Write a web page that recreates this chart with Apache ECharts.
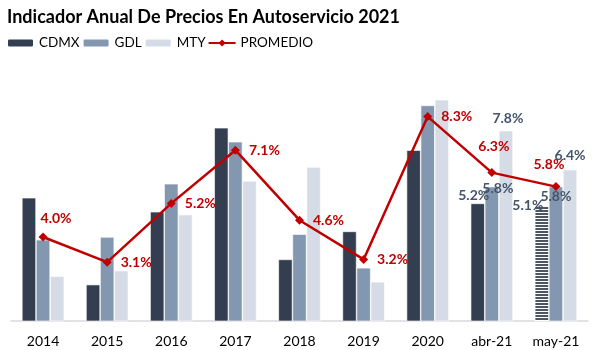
<!DOCTYPE html>
<html>
<head>
<meta charset="utf-8">
<script src="https://cdn.jsdelivr.net/npm/echarts@6/dist/echarts.min.js"></script>
<style>
  html, body { margin: 0; padding: 0; background: #fff; }
  #chart { width: 600px; height: 350px; }
</style>
</head>
<body>
<div id="chart"></div>
<script>
const years = ['2014', '2015', '2016', '2017', '2018', '2019', '2020', 'abr-21', 'may-21']
const cdmx = [5.4, 2.3, 4.9, 7.9, 3.2, 4.2, 7.1, 5.2, 5.1]
const gdl = [3.9, 4.0, 5.9, 7.4, 4.1, 2.9, 8.7, 5.8, 5.8]
const mty = [2.6, 2.8, 4.8, 6.0, 6.5, 2.4, 8.9, 7.8, 6.4]
const promedio = [4.0, 3.1, 5.2, 7.1, 4.6, 3.2, 8.3, 6.3, 5.8]

// only the last two months carry bar labels
const labelled = ['abr-21', 'may-21']

const FONT = 'Lato'

const chart = echarts.init(document.getElementById('chart'))

// striped fill for the may-21 CDMX bar
const stripe = document.createElement('canvas')
stripe.width = 4
stripe.height = 3
const sctx = stripe.getContext('2d')
sctx.fillStyle = '#fff'
sctx.fillRect(0, 0, 4, 3)
sctx.fillStyle = '#4a5566'
sctx.fillRect(0, 0, 4, 2)

const pct = (p) => p.value.toFixed(1) + '%'

const barLabel = {
  color: '#44546A',
  fontWeight: 'bold',
  fontSize: 14,
  fontFamily: FONT,
  formatter: pct
}

const barOffsets = {
  CDMX: { 'abr-21': [-4, 4], 'may-21': [-14, 11] },
  GDL: { 'abr-21': [6, 14], 'may-21': [0, 22] },
  MTY: { 'abr-21': [2, 0], 'may-21': [0, -2] }
}

function barData(name, values) {
  return values.map((v, i) => {
    const cat = years[i]
    const item = { value: v }
    if (labelled.includes(cat)) {
      item.label = { show: true, position: 'top', offset: barOffsets[name][cat], ...barLabel }
    }
    if (name === 'CDMX' && cat === 'may-21') {
      item.itemStyle = { color: { image: stripe, repeat: 'repeat' } }
    }
    return item
  })
}

const lineLabelPos = {
  '2014': { position: 'top', offset: [13, 2] },
  'abr-21': { position: 'top', offset: [2, -6] },
  'may-21': { position: 'top', offset: [-7, -2] }
}

const lineData = promedio.map((v, i) => {
  const item = { value: v }
  const p = lineLabelPos[years[i]]
  if (p) item.label = p
  return item
})

const option = {
  backgroundColor: '#fff',
  animation: false,
  title: {
    text: 'Indicador Anual De Precios En Autoservicio 2021',
    left: 2,
    top: 3,
    textStyle: {
      fontFamily: FONT,
      fontSize: 18,
      fontWeight: 'bold',
      color: '#000'
    }
  },
  legend: {
    left: 6,
    top: 36,
    padding: 0,
    itemWidth: 27,
    itemHeight: 9,
    itemGap: 2,
    textStyle: {
      fontFamily: FONT,
      fontSize: 13.5,
      color: '#000'
    },
    data: ['CDMX', 'GDL', 'MTY', 'PROMEDIO']
  },
  grid: {
    left: 11,
    right: 12,
    top: 97,
    bottom: 29
  },
  xAxis: {
    type: 'category',
    data: years,
    axisLine: {
      lineStyle: { color: '#D9D9D9', width: 1.5 }
    },
    axisTick: { show: false },
    axisLabel: {
      color: '#000',
      fontFamily: FONT,
      fontSize: 14,
      margin: 13
    }
  },
  yAxis: {
    type: 'value',
    min: 1,
    max: 9,
    show: false,
    splitLine: { show: false }
  },
  series: [
    {
      name: 'CDMX',
      type: 'bar',
      data: barData('CDMX', cdmx),
      barGap: '0%',
      barCategoryGap: '34%',
      itemStyle: { color: '#333F50', borderColor: '#fff', borderWidth: 0.6 }
    },
    {
      name: 'GDL',
      type: 'bar',
      data: barData('GDL', gdl),
      itemStyle: { color: '#8497B0', borderColor: '#fff', borderWidth: 0.6 }
    },
    {
      name: 'MTY',
      type: 'bar',
      data: barData('MTY', mty),
      itemStyle: { color: '#D6DCE5', borderColor: '#fff', borderWidth: 0.6 }
    },
    {
      name: 'PROMEDIO',
      type: 'line',
      data: lineData,
      symbol: 'diamond',
      symbolSize: 9,
      z: 5,
      lineStyle: { color: '#C00000', width: 2.5 },
      itemStyle: { color: '#C00000' },
      label: {
        show: true,
        position: 'right',
        distance: 9,
        formatter: pct,
        color: '#C00000',
        fontWeight: 'bold',
        fontSize: 14,
        fontFamily: FONT
      }
    }
  ]
}

chart.setOption(option)
</script>
</body>
</html>
